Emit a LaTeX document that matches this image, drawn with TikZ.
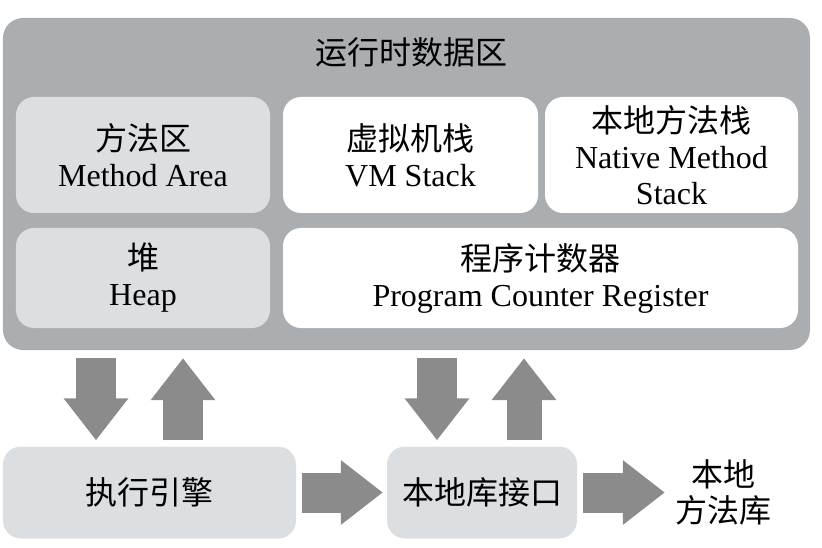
\documentclass[tikz,border=0pt]{standalone}
\usepackage{fontspec}
\setmainfont{Liberation Serif}
\newfontfamily\cjk{Noto Sans CJK SC}
\usetikzlibrary{arrows.meta}
\definecolor{areaGray}{HTML}{AAAEB0}
\definecolor{boxGray}{HTML}{DCDFE1}
\definecolor{arrowGray}{HTML}{8B8B8B}
\newcommand{\zh}[1]{{\cjk #1}}
\tikzset{
  area/.style={fill=areaGray, rounded corners=20bp, minimum width=807bp, minimum height=332bp},
  graybox/.style={fill=boxGray, rounded corners=18bp, align=center},
  whitebox/.style={fill=white, rounded corners=18bp, align=center},
  blk/.style={arrowGray, line width=40bp, -{Triangle[length=42bp,width=62bp]}}
}
\begin{document}
\begin{tikzpicture}[x=1bp, y=-1bp, font=\fontsize{32bp}{36bp}\selectfont]
  \useasboundingbox (0,0) rectangle (822,548);
  % runtime data area
  \node[area] (rt) at (406.5,184) {};
  \node (title) at (411,52) {\zh{运行时数据区}};
  \node[graybox, minimum width=254bp, minimum height=116bp] (ma) at (143,155) {\zh{方法区}\\Method Area};
  \node[whitebox, minimum width=255bp, minimum height=116bp] (vm) at (410.5,155) {\zh{虚拟机栈}\\VM Stack};
  \node[whitebox, minimum width=253bp, minimum height=116bp, inner sep=0pt] (nm) at (671.5,155) {\zh{本地方法栈}\\Native Method\\Stack};
  \node[graybox, minimum width=254bp, minimum height=100bp] (heap) at (143,278) {\zh{堆}\\Heap};
  \node[whitebox, minimum width=515bp, minimum height=100bp] (pc) at (540.5,278) {\zh{程序计数器}\\Program Counter Register};
  % bottom row
  \node[graybox, minimum width=293bp, minimum height=92bp] (exec) at (149.5,492.5) {\zh{执行引擎}};
  \node[graybox, minimum width=190bp, minimum height=92bp] (nli) at (482,492.5) {\zh{本地库接口}};
  \node[align=center, inner sep=0pt] (lib) at (723,492) {\zh{本地}\\\zh{方法库}};
  % arrow columns
  \coordinate (c1) at (96,0);
  \coordinate (c2) at (183,0);
  \coordinate (c3) at (437,0);
  \coordinate (c4) at (524,0);
  \draw[blk, shorten <=8bp, shorten >=6bp] (rt.south -| c1) -- (exec.north -| c1);
  \draw[blk, shorten <=6bp, shorten >=8bp] (exec.north -| c2) -- (rt.south -| c2);
  \draw[blk, shorten <=8bp, shorten >=6bp] (rt.south -| c3) -- (nli.north -| c3);
  \draw[blk, line width=35bp, shorten <=6bp, shorten >=8bp] (nli.north -| c4) -- (rt.south -| c4);
  \draw[blk, shorten <=6bp, shorten >=4bp] (exec.east) -- (nli.west);
  \draw[blk, shorten <=6bp, shorten >=10bp] (nli.east) -- (lib.west |- nli.east);
\end{tikzpicture}
\end{document}
